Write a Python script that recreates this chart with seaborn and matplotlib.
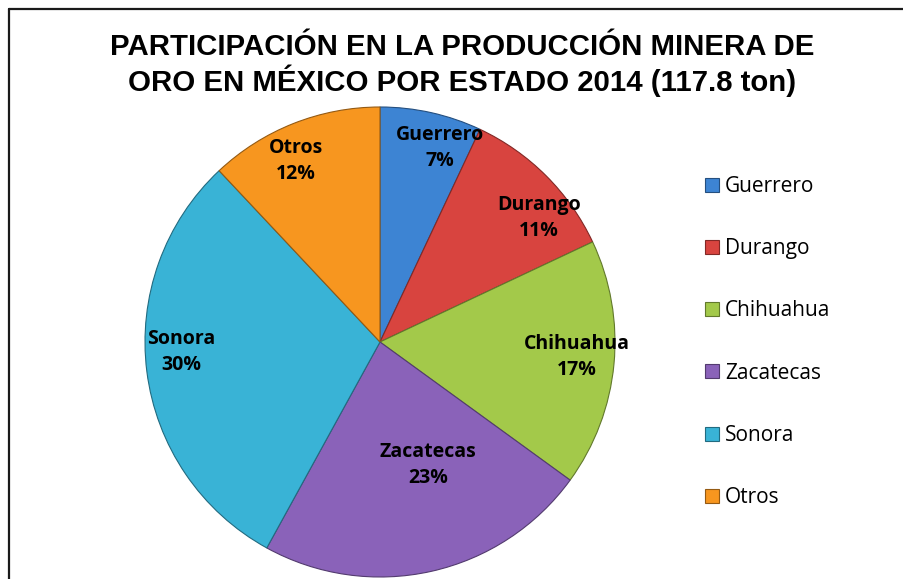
import numpy as np
import matplotlib
matplotlib.use("Agg")
import matplotlib.pyplot as plt
from matplotlib.patches import Patch
from matplotlib.lines import Line2D
import seaborn as sns

# ---- data ----
estados = ["Guerrero", "Durango", "Chihuahua", "Zacatecas", "Sonora", "Otros"]
porcentajes = [7, 11, 17, 23, 30, 12]
colores = ["#3d84d3", "#d8443f", "#a3c94a", "#8a62b9", "#39b3d6", "#f7961f"]
titulo = "PARTICIPACIÓN EN LA PRODUCCIÓN MINERA DE\nORO EN MÉXICO POR ESTADO 2014 (117.8 ton)"

# label layout (radius fraction, angle offset in degrees from wedge middle)
label_r = [0.865, 0.86, 0.84, 0.56, 0.845, 0.85]
label_da = [-4.5, -7.0, 1.0, 8.7, -4.3, 3.2]

sns.set_theme(style="white")
plt.rcParams["font.family"] = ["Open Sans", "DejaVu Sans"]
plt.rcParams["text.color"] = "black"

W, H = 904, 579
fig = plt.figure(figsize=(W / 100, H / 100), dpi=100)
fig.patch.set_facecolor("white")

cx, cy, R = 380, 342, 235
ax = fig.add_axes([(cx - R) / W, (H - cy - R) / H, 2 * R / W, 2 * R / H])
ax.set_aspect("equal")

edge = [tuple(np.array(matplotlib.colors.to_rgb(c)) * 0.6) for c in colores]
wedges, _ = ax.pie(porcentajes, colors=colores, startangle=90, counterclock=False,
                   radius=1.0, wedgeprops=dict(linewidth=0.8, edgecolor="#404040"))
for w, e in zip(wedges, edge):
    w.set_edgecolor(e)

for w, name, p, r, da in zip(wedges, estados, porcentajes, label_r, label_da):
    ang = np.deg2rad((w.theta1 + w.theta2) / 2 + da)
    ax.text(r * np.cos(ang), r * np.sin(ang), f"{name}\n{p}%", ha="center", va="center",
            fontsize=14, fontweight="bold", color="black", linespacing=1.4,
            family=["Open Sans", "DejaVu Sans"])
ax.set_xlim(-1.0, 1.0)
ax.set_ylim(-1.0, 1.0)
ax.axis("off")

fig.text(462 / W, 1 - 65 / H, titulo, ha="center", va="center", fontsize=21.2,
         fontweight="bold", color="black", family=["Liberation Sans", "DejaVu Sans"],
         linespacing=1.12)

handles = [Patch(facecolor=c, edgecolor=e, linewidth=0.8) for c, e in zip(colores, edge)]
leg = fig.legend(handles, estados, loc="upper left", bbox_to_anchor=(705 / W, 1 - 176 / H),
                 frameon=False, fontsize=15, labelspacing=1.98, handlelength=0.65,
                 handleheight=0.65, handletextpad=0.3, borderpad=0, borderaxespad=0)
for t in leg.get_texts():
    t.set_color("black")

# frame lines (top and left)
fig.add_artist(Line2D([9 / W, 9 / W], [0, 1 - 9 / H], transform=fig.transFigure,
                      color="#1a1a1a", linewidth=1.6))
fig.add_artist(Line2D([9 / W, 1], [1 - 9 / H, 1 - 9 / H], transform=fig.transFigure,
                      color="#1a1a1a", linewidth=1.6))

fig.savefig("out.png", dpi=100, facecolor="white")
